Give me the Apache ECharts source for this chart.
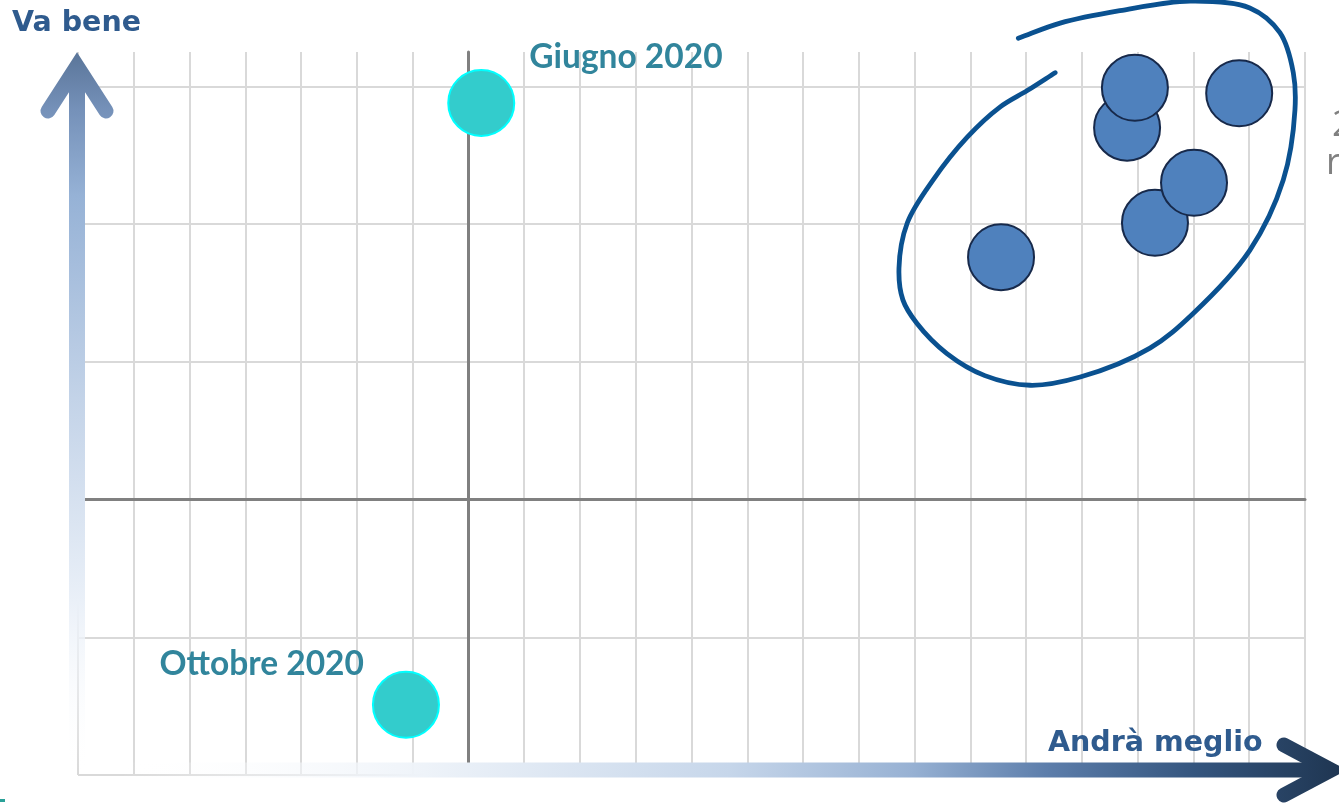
<!DOCTYPE html>
<html>
<head>
<meta charset="utf-8">
<title>Va bene / Andrà meglio</title>
<script src="https://cdn.jsdelivr.net/npm/echarts@6/dist/echarts.min.js"></script>
<style>
  html, body { margin: 0; padding: 0; background: #ffffff; }
  #chart { width: 1339px; height: 807px; }
</style>
</head>
<body>
<div id="chart"></div>
<script>
// Axis ranges (grid units)
const xRange = { min: -7, max: 15, interval: 1 };
const yRange = { min: -2, max: 3.25, interval: 1 };

// Axis titles
const yTitle = 'Va bene';
const xTitle = 'Andrà meglio';

// Highlighted survey waves: [x, y]
const waveNames = ['Giugno 2020', 'Ottobre 2020'];
const waveValues = [[0.23, 2.88], [-1.12, -1.49]];

// Other observations
const otherValues = [
  [9.55, 1.76],
  [11.81, 2.70],
  [11.95, 2.99],
  [13.82, 2.95],
  [12.31, 2.01],
  [13.01, 2.30]
];

// Hand-drawn loop around the cluster
const loopValues = [
  [10.52, 3.10], [10.02, 2.97], [9.53, 2.85], [8.94, 2.63], [8.33, 2.32],
  [7.87, 2.01], [7.72, 1.68], [7.79, 1.45], [8.04, 1.28], [8.58, 1.06],
  [9.26, 0.90], [10.07, 0.83], [10.97, 0.89], [12.22, 1.10], [12.99, 1.35],
  [14.01, 1.81], [14.61, 2.32], [14.82, 2.83], [14.79, 3.10], [14.55, 3.39],
  [14.01, 3.57], [12.94, 3.62], [11.68, 3.55], [10.61, 3.46], [9.86, 3.35]
];

const chart = echarts.init(document.getElementById('chart'), null, { renderer: 'canvas' });

const titleFont = 'bold 28.5px "DejaVu Sans"';
const titleColor = '#2f5b8e';

const hGrad = {
  type: 'linear', global: true, x: 120, y: 0, x2: 1339, y2: 0,
  colorStops: [
    { offset: 0, color: 'rgba(255,255,255,0)' },
    { offset: 0.25, color: '#eef3f9' },
    { offset: 0.5, color: '#c6d6ea' },
    { offset: 0.65, color: '#97b1d3' },
    { offset: 0.76, color: '#5d7eab' },
    { offset: 0.88, color: '#35567f' },
    { offset: 1, color: '#1f3652' }
  ]
};
const vGrad = {
  type: 'linear', global: true, x: 0, y: 775, x2: 0, y2: 52,
  colorStops: [
    { offset: 0, color: 'rgba(255,255,255,0)' },
    { offset: 0.24, color: '#eaf0f8' },
    { offset: 0.52, color: '#c3d3e8' },
    { offset: 0.8, color: '#96b2d6' },
    { offset: 0.92, color: '#7591b9' },
    { offset: 1, color: '#5a7599' }
  ]
};

// Centripetal Catmull-Rom curve through the loop points (pixel space)
function loopPath(pts) {
  const dist = function (a, b) { return Math.sqrt(Math.hypot(b[0] - a[0], b[1] - a[1])); };
  let d = 'M' + pts[0][0] + ' ' + pts[0][1];
  for (let i = 0; i < pts.length - 1; i++) {
    const p1 = pts[i], p2 = pts[i + 1];
    const p0 = i > 0 ? pts[i - 1] : [2 * p1[0] - p2[0], 2 * p1[1] - p2[1]];
    const p3 = i + 2 < pts.length ? pts[i + 2] : [2 * p2[0] - p1[0], 2 * p2[1] - p1[1]];
    const d1 = dist(p0, p1), d2 = dist(p1, p2), d3 = dist(p2, p3);
    const b1 = [0, 1].map(function (k) {
      return (d1 * d1 * p2[k] - d2 * d2 * p0[k] + (2 * d1 * d1 + 3 * d1 * d2 + d2 * d2) * p1[k]) / (3 * d1 * (d1 + d2));
    });
    const b2 = [0, 1].map(function (k) {
      return (d3 * d3 * p1[k] - d2 * d2 * p3[k] + (2 * d3 * d3 + 3 * d3 * d2 + d2 * d2) * p2[k]) / (3 * d3 * (d3 + d2));
    });
    d += ' C' + b1[0] + ' ' + b1[1] + ' ' + b2[0] + ' ' + b2[1] + ' ' + p2[0] + ' ' + p2[1];
  }
  return d;
}

const option = {
  animation: false,
  backgroundColor: '#ffffff',
  grid: { left: 78, right: 34, top: 52, bottom: 32, containLabel: false },
  xAxis: {
    type: 'value',
    min: xRange.min, max: xRange.max, interval: xRange.interval,
    axisLabel: { show: false },
    axisTick: { show: false },
    axisLine: { show: true, onZero: true, lineStyle: { color: '#808080', width: 3 } },
    splitLine: { show: true, lineStyle: { color: '#d9d9d9', width: 2 } }
  },
  yAxis: {
    type: 'value',
    min: yRange.min, max: yRange.max, interval: yRange.interval,
    axisLabel: { show: false },
    axisTick: { show: false },
    axisLine: { show: true, onZero: true, lineStyle: { color: '#808080', width: 3 } },
    splitLine: { show: true, showMaxLine: false, lineStyle: { color: '#d9d9d9', width: 2 } }
  },
  series: [
    {
      name: 'loop',
      type: 'custom',
      coordinateSystem: 'cartesian2d',
      data: [loopValues[0]],
      clip: false,
      z: 2,
      silent: true,
      renderItem: function (params, api) {
        const pts = loopValues.map(function (v) { return api.coord(v); });
        return {
          type: 'path',
          shape: { pathData: loopPath(pts) },
          style: { fill: null, stroke: '#0a5190', lineWidth: 4.8, lineCap: 'round', lineJoin: 'round' }
        };
      }
    },
    {
      name: 'others',
      type: 'scatter',
      data: otherValues,
      symbolSize: 66,
      z: 3,
      itemStyle: { color: '#4f81bd', borderColor: '#17294a', borderWidth: 2, opacity: 1 }
    },
    {
      name: 'waves',
      type: 'scatter',
      symbolSize: 66,
      z: 3,
      itemStyle: { color: '#33cccc', borderColor: '#00ffff', borderWidth: 2, opacity: 1 },
      label: {
        show: true,
        formatter: '{b}',
        fontFamily: 'Lato',
        fontWeight: 'bold',
        fontSize: 33.5,
        color: '#31859c'
      },
      data: [
        { name: waveNames[0], value: waveValues[0], label: { position: 'right', distance: 14, offset: [0, -46] } },
        { name: waveNames[1], value: waveValues[1], label: { position: 'left', distance: 8, offset: [0, -41] } }
      ]
    }
  ],
  graphic: [
    // vertical arrow
    {
      type: 'line', z: 50,
      shape: { x1: 77, y1: 776, x2: 77, y2: 68 },
      style: { stroke: vGrad, lineWidth: 16, lineCap: 'butt' }
    },
    {
      type: 'polyline', z: 50,
      shape: { points: [[48, 111], [77, 66], [106, 111]] },
      style: { stroke: vGrad, lineWidth: 15, lineCap: 'round', lineJoin: 'miter', fill: null }
    },
    // horizontal arrow
    {
      type: 'line', z: 50,
      shape: { x1: 120, y1: 770, x2: 1330, y2: 770 },
      style: { stroke: hGrad, lineWidth: 15, lineCap: 'butt' }
    },
    {
      type: 'polyline', z: 50,
      shape: { points: [[1284, 745], [1331, 770], [1284, 795]] },
      style: { stroke: hGrad, lineWidth: 15, lineCap: 'round', lineJoin: 'miter', fill: null }
    },
    // axis titles
    {
      type: 'text', z: 60,
      style: { x: 12, y: 24, text: yTitle, font: titleFont, fill: titleColor, textAlign: 'left', textVerticalAlign: 'middle' }
    },
    {
      type: 'text', z: 60,
      style: { x: 1048, y: 744, text: xTitle, font: titleFont, fill: titleColor, textAlign: 'left', textVerticalAlign: 'middle' }
    },
    // side note running off the right edge
    {
      type: 'text', z: 60,
      style: { x: 1332, y: 126, text: '2', font: '36px "Open Sans"', fill: '#808080', textAlign: 'left', textVerticalAlign: 'middle' }
    },
    {
      type: 'text', z: 60,
      style: { x: 1326, y: 164, text: 'r', font: '36px "Open Sans"', fill: '#808080', textAlign: 'left', textVerticalAlign: 'middle' }
    },
    {
      type: 'rect', z: 60,
      shape: { x: 0, y: 799, width: 5, height: 3 },
      style: { fill: '#2aa198' }
    }
  ]
};

chart.setOption(option);
</script>
</body>
</html>
